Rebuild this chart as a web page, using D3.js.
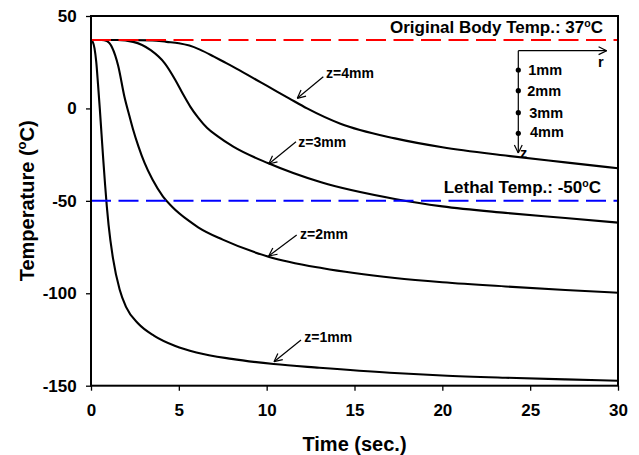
<!DOCTYPE html>
<html><head><meta charset="utf-8">
<script src="https://cdn.jsdelivr.net/npm/d3@7"></script>
<style>body{margin:0;background:#fff}svg{display:block}text{font-family:Arial,"Liberation Sans",sans-serif;font-weight:bold}</style>
</head><body><svg id="c" width="639" height="455"></svg>
<script>
// data
const xTicks = [0, 5, 10, 15, 20, 25, 30];
const yTicks = [-150, -100, -50, 0, 50];
const t1 = [0, 0.1, 0.2, 0.3, 0.4, 0.5, 0.6, 0.7, 0.8, 0.9, 1.0, 1.25, 1.63, 2.0, 2.7, 3.6, 4.8, 6, 8, 10.4, 13, 17, 20, 23.6, 27, 30];
const z1 = [37, 36, 32.5, 25, 13, 0, -14, -28, -41, -53, -63, -81, -98, -107.5, -116.5, -123, -128.5, -132, -135.5, -138.3, -140.3, -143, -144.5, -145.7, -146.6, -147.3];
const t2 = [0, 0.6, 0.9, 1.05, 1.2, 1.55, 1.9, 2.2, 2.4, 2.7, 3.05, 3.5, 4.1, 4.6, 5.6, 6.1, 7.5, 10.1, 13.2, 17.3, 20, 23.6, 27, 30];
const z2 = [37, 37, 36.5, 35.3, 33, 23, 6.5, -4.5, -11.5, -20.5, -29.5, -38.5, -47.7, -53, -61, -64.3, -71, -80.2, -86.5, -91.7, -94, -96.3, -98.2, -99.7];
const t3 = [0, 1.5, 2.4, 3.4, 4.2, 4.8, 5.25, 5.65, 6.1, 6.6, 7.2, 8.1, 10.1, 13.1, 17.3, 20, 23.6, 27, 30];
const z3 = [37, 37, 36, 31.5, 24.4, 15.4, 7.5, 1, -5, -10.5, -15, -20.7, -29.7, -40, -49, -53, -56.5, -59.3, -61.8];
const t4 = [0, 2, 3.5, 4.3, 5.0, 5.6, 6.2, 7.0, 7.5, 8.1, 9.4, 10, 11.3, 12.3, 14.2, 17.3, 20, 23.6, 27, 30];
const z4 = [37, 37, 36.8, 36, 35.3, 34, 31.8, 28, 25.5, 22.5, 15.5, 12.3, 5.3, 0, -8.3, -16.2, -21, -25.5, -29.2, -32.4];
const seriesNames = ["z=1mm", "z=2mm", "z=3mm", "z=4mm"];
const bodyTemp = 37, lethalTemp = -50;
const depthLabels = ["1mm", "2mm", "3mm", "4mm"];

const svg = d3.select("#c");
const W = 639, H = 455, m = {l: 91, r: 21, t: 16, b: 69.3};
const x = d3.scaleLinear().domain([0, 30]).range([m.l, W - m.r]);
const y = d3.scaleLinear().domain([-150, 50]).range([H - m.b, m.t]);

// axes
const fmt = d => String(d);
const xa = svg.append("g").attr("transform", `translate(0,${H - m.b})`)
  .call(d3.axisBottom(x).tickValues(xTicks).tickFormat(fmt).tickSize(5).tickSizeOuter(0).tickPadding(13));
const ya = svg.append("g").attr("transform", `translate(${m.l},0)`)
  .call(d3.axisLeft(y).tickValues(yTicks).tickFormat(fmt).tickSize(5).tickSizeOuter(0).tickPadding(9.3));
[xa, ya].forEach(a => {
  a.select(".domain").remove();
  a.selectAll("line").attr("stroke", "#000").attr("stroke-width", 1.3);
  a.selectAll("text").attr("font-size", 17).attr("fill", "#000")
    .style("font-family", "Arial,'Liberation Sans',sans-serif").style("font-weight", "bold");
});

// curves
const line = d3.line().x(d => x(d[0])).y(d => y(d[1])).curve(d3.curveMonotoneX);
const data = [[t1, z1], [t2, z2], [t3, z3], [t4, z4]].map(([t, z]) => t.map((v, i) => [v, z[i]]));
svg.append("g").selectAll("path").data(data).join("path")
  .attr("d", line).attr("fill", "none").attr("stroke", "#000").attr("stroke-width", 2.1);

// reference lines
svg.append("line").attr("x1", x(0)).attr("x2", x(30)).attr("y1", y(bodyTemp)).attr("y2", y(bodyTemp))
  .attr("stroke", "#ff0000").attr("stroke-width", 2).attr("stroke-dasharray", "20,7.5");
svg.append("line").attr("x1", x(0)).attr("x2", x(30)).attr("y1", y(lethalTemp)).attr("y2", y(lethalTemp))
  .attr("stroke", "#0000ff").attr("stroke-width", 2).attr("stroke-dasharray", "20,7.5");

// frame
svg.append("rect").attr("x", x(0)).attr("y", y(50)).attr("width", x(30) - x(0)).attr("height", y(-150) - y(50))
  .attr("fill", "none").attr("stroke", "#000").attr("stroke-width", 2);

// reference labels
function supLabel(xp, yp, pre, fs) {
  const t = svg.append("text").attr("x", xp).attr("y", yp).attr("text-anchor", "end").attr("font-size", fs);
  t.append("tspan").text(pre);
  t.append("tspan").text("o").attr("font-size", fs * 0.62).attr("dy", -fs * 0.38);
  t.append("tspan").text("C").attr("dy", fs * 0.38);
  return t;
}
supLabel(603, 33.3, "Original Body Temp.: " + bodyTemp, 17);
supLabel(601, 193.3, "Lethal Temp.: " + lethalTemp, 17);

// annotations with arrows
const ann = [
  {s: 0, tx: 304.3, ty: 341.5, a: [301, 340, 274, 361.7]},
  {s: 1, tx: 300, ty: 239.3, a: [296.7, 235, 268.7, 256]},
  {s: 2, tx: 298.3, ty: 146.7, a: [296, 141.7, 268.7, 164]},
  {s: 3, tx: 326, ty: 78, a: [323.3, 76.7, 297.3, 98.3]}
];
function arrow(g, x1, y1, x2, y2, len, sw) {
  g.append("line").attr("x1", x1).attr("y1", y1).attr("x2", x2).attr("y2", y2).attr("stroke", "#000").attr("stroke-width", sw);
  const ang = Math.atan2(y2 - y1, x2 - x1);
  [0.45, -0.45].forEach(o => {
    g.append("line").attr("x1", x2).attr("y1", y2)
      .attr("x2", x2 - len * Math.cos(ang + o)).attr("y2", y2 - len * Math.sin(ang + o))
      .attr("stroke", "#000").attr("stroke-width", sw);
  });
}
const ag = svg.append("g");
ann.forEach(d => {
  ag.append("text").attr("x", d.tx).attr("y", d.ty).attr("font-size", 14).text(seriesNames[d.s]);
  arrow(ag, d.a[0], d.a[1], d.a[2], d.a[3], 9, 1.2);
});

// inset schematic
const ig = svg.append("g");
const ix = 518.3, iy = 50.7;
arrow(ig, ix, iy, 606.7, iy, 9, 1.2);
arrow(ig, ix, iy, ix, 153, 9, 1.2);
ig.append("text").attr("x", 598).attr("y", 67).attr("font-size", 14.5).text("r");
ig.append("text").attr("x", 520).attr("y", 158).attr("font-size", 14.5).text("z");
const dotY = [70, 90.7, 112.7, 133.3];
const labX = [528.3, 527.3, 529.3, 530];
const labY = [75, 95.7, 117.7, 137];
depthLabels.forEach((l, i) => {
  ig.append("circle").attr("cx", ix).attr("cy", dotY[i]).attr("r", 2.6).attr("fill", "#000");
  ig.append("text").attr("x", labX[i]).attr("y", labY[i]).attr("font-size", 14.5).text(l);
});

// axis titles
svg.append("text").attr("x", (x(0) + x(30)) / 2).attr("y", 451).attr("text-anchor", "middle")
  .attr("font-size", 20).text("Time (sec.)");
const yl = svg.append("text").attr("transform", `translate(34,${(y(50) + y(-150)) / 2}) rotate(-90)`)
  .attr("text-anchor", "middle").attr("font-size", 20);
yl.append("tspan").text("Temperature (");
yl.append("tspan").text("o").attr("font-size", 13).attr("dy", -8);
yl.append("tspan").text("C)").attr("dy", 8);
</script></body></html>
